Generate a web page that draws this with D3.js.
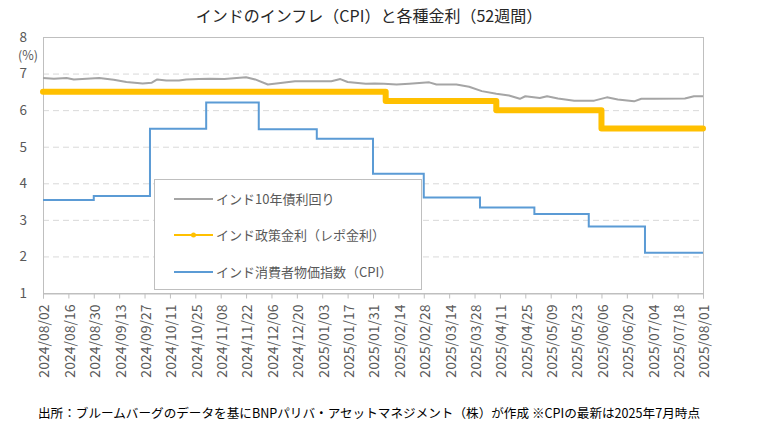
<!DOCTYPE html>
<html>
<head>
<meta charset="utf-8">
<script src="https://cdn.jsdelivr.net/npm/d3@7"></script>
<style>
  body { margin: 0; background: #fff; }
  svg text { font-family: "Noto Sans CJK JP", "Noto Sans", sans-serif; }
</style>
</head>
<body>
<div id="chart"></div>
<script>
// インド10年債利回り
const yieldDates = ["2024-08-02","2024-08-08","2024-08-15","2024-08-19","2024-09-02","2024-09-10","2024-09-17","2024-09-26",
  "2024-10-01","2024-10-04","2024-10-09","2024-10-16","2024-10-20","2024-10-27","2024-11-02","2024-11-10","2024-11-22",
  "2024-11-27","2024-12-04","2024-12-11","2024-12-19","2024-12-30","2025-01-08","2025-01-13","2025-01-17","2025-01-27",
  "2025-02-01","2025-02-06","2025-02-13","2025-02-20","2025-03-03","2025-03-07","2025-03-18","2025-03-25","2025-04-01",
  "2025-04-09","2025-04-16","2025-04-22","2025-04-25","2025-05-03","2025-05-07","2025-05-13","2025-05-22","2025-06-02",
  "2025-06-09","2025-06-15","2025-06-24","2025-06-28","2025-07-05","2025-07-22","2025-07-27","2025-08-01"];
const yieldValues = [6.88,6.86,6.88,6.84,6.88,6.83,6.77,6.73,
  6.75,6.84,6.81,6.81,6.84,6.85,6.86,6.85,6.90,
  6.84,6.70,6.74,6.79,6.79,6.79,6.85,6.77,6.72,
  6.73,6.72,6.70,6.72,6.76,6.70,6.70,6.64,6.52,
  6.45,6.40,6.31,6.38,6.33,6.38,6.32,6.26,6.26,
  6.35,6.29,6.24,6.31,6.31,6.32,6.38,6.38];

// インド政策金利（レポ金利）
const repoDates = ["2024-08-02","2025-02-07","2025-04-09","2025-06-06","2025-08-01"];
const repoValues = [6.50, 6.25, 6.00, 5.50, 5.50];

// インド消費者物価指数（CPI）
const cpiDates = ["2024-08-02","2024-08-30","2024-09-30","2024-10-31","2024-11-29","2024-12-31",
  "2025-01-31","2025-02-28","2025-03-31","2025-04-30","2025-05-30","2025-06-30","2025-08-01"];
const cpiValues = [3.54, 3.65, 5.49, 6.21, 5.48, 5.22, 4.26, 3.61, 3.34, 3.16, 2.82, 2.10, 2.10];

const xTickLabels = ["2024/08/02","2024/08/16","2024/08/30","2024/09/13","2024/09/27","2024/10/11","2024/10/25",
  "2024/11/08","2024/11/22","2024/12/06","2024/12/20","2025/01/03","2025/01/17","2025/01/31","2025/02/14",
  "2025/02/28","2025/03/14","2025/03/28","2025/04/11","2025/04/25","2025/05/09","2025/05/23","2025/06/06",
  "2025/06/20","2025/07/04","2025/07/18","2025/08/01"];
const yTicks = [1, 2, 3, 4, 5, 6, 7, 8];

const seriesNames = ["インド10年債利回り", "インド政策金利（レポ金利）", "インド消費者物価指数（CPI）"];
const seriesColors = ["#a5a5a5", "#ffc000", "#5b9bd5"];

const width = 758, height = 433;
const plot = { left: 43, right: 703, top: 37, bottom: 293 };

const parseDate = d3.utcParse("%Y-%m-%d");
const parseTick = d3.utcParse("%Y/%m/%d");

const svg = d3.select("#chart").append("svg")
    .attr("width", width)
    .attr("height", height);

const x = d3.scaleUtc()
    .domain([parseTick(xTickLabels[0]), parseTick(xTickLabels[xTickLabels.length - 1])])
    .range([plot.left, plot.right]);
const y = d3.scaleLinear()
    .domain([1, 8])
    .range([plot.bottom, plot.top]);

// title
svg.append("text")
    .attr("x", 369)
    .attr("y", 22)
    .attr("text-anchor", "middle")
    .attr("font-size", 16)
    .attr("fill", "#262626")
    .text("インドのインフレ（CPI）と各種金利（52週間）");

// gridlines
svg.append("g")
    .selectAll("line")
    .data(yTicks.filter(t => t > 1 && t < 8))
    .enter()
    .append("line")
    .attr("x1", plot.left)
    .attr("x2", plot.right)
    .attr("y1", d => y(d) + 0.5)
    .attr("y2", d => y(d) + 0.5)
    .attr("stroke", "#d9d9d9")
    .attr("stroke-dasharray", "6,4");

// plot border
svg.append("rect")
    .attr("x", plot.left + 0.5)
    .attr("y", plot.top + 0.5)
    .attr("width", plot.right - plot.left)
    .attr("height", plot.bottom - plot.top)
    .attr("fill", "none")
    .attr("stroke", "#bfbfbf");

// y axis
const yAxis = d3.axisLeft(y).tickValues(yTicks).tickSize(0).tickPadding(16).tickFormat(d3.format("d"));
const yg = svg.append("g")
    .attr("transform", `translate(${plot.left},0)`)
    .call(yAxis);
yg.select(".domain").remove();
yg.selectAll("text")
    .attr("font-size", 13.5)
    .attr("font-family", "'Noto Sans', sans-serif")
    .attr("fill", "#595959");

svg.append("text")
    .attr("x", 28)
    .attr("y", 59.5)
    .attr("text-anchor", "middle")
    .attr("font-size", 12.5)
    .attr("font-family", "'Noto Sans', sans-serif")
    .attr("fill", "#595959")
    .text("(%)");

// x axis
const xAxis = d3.axisBottom(x)
    .tickValues(xTickLabels.map(parseTick))
    .tickFormat(d3.utcFormat("%Y/%m/%d"))
    .tickSize(5);
const xg = svg.append("g")
    .attr("transform", `translate(0,${plot.bottom + 0.5})`)
    .call(xAxis);
xg.select(".domain").attr("stroke", "#bfbfbf");
xg.selectAll(".tick line").attr("stroke", "#bfbfbf");
xg.selectAll("text")
    .attr("font-size", 14)
    .attr("fill", "#595959")
    .attr("text-anchor", "end")
    .attr("transform", "translate(1,11) rotate(-90)")
    .attr("x", 0)
    .attr("y", 0)
    .attr("dy", "0.35em")
    .attr("dx", 0);

// lines
const toPoints = (dates, values) => dates.map((d, i) => ({ date: parseDate(d), value: values[i] }));

const linearLine = d3.line().x(d => x(d.date)).y(d => y(d.value));
const stepLine = d3.line().x(d => x(d.date)).y(d => y(d.value)).curve(d3.curveStepAfter);

svg.append("path")
    .datum(toPoints(yieldDates, yieldValues))
    .attr("d", linearLine)
    .attr("fill", "none")
    .attr("stroke", seriesColors[0])
    .attr("stroke-width", 2)
    .attr("stroke-linejoin", "round");

svg.append("path")
    .datum(toPoints(repoDates, repoValues))
    .attr("d", stepLine)
    .attr("fill", "none")
    .attr("stroke", seriesColors[1])
    .attr("stroke-width", 6)
    .attr("stroke-linecap", "round")
    .attr("stroke-linejoin", "round");

svg.append("path")
    .datum(toPoints(cpiDates, cpiValues))
    .attr("d", stepLine)
    .attr("fill", "none")
    .attr("stroke", seriesColors[2])
    .attr("stroke-width", 2);

// legend
const legend = svg.append("g");
legend.append("rect")
    .attr("x", 154.5)
    .attr("y", 179.5)
    .attr("width", 267)
    .attr("height", 110)
    .attr("fill", "#fff")
    .attr("stroke", "#bfbfbf");

const rows = [199, 235, 272];
seriesNames.forEach((name, i) => {
    legend.append("line")
        .attr("x1", 174)
        .attr("x2", 213)
        .attr("y1", rows[i])
        .attr("y2", rows[i])
        .attr("stroke", seriesColors[i])
        .attr("stroke-width", 2);
    if (i === 1) {
        legend.append("circle")
            .attr("cx", 193.5)
            .attr("cy", rows[i])
            .attr("r", 2.5)
            .attr("fill", seriesColors[i]);
    }
    legend.append("text")
        .attr("x", 216)
        .attr("y", rows[i])
        .attr("dy", "0.35em")
        .attr("font-size", 13)
        .attr("fill", "#595959")
        .text(name);
});

// footnote
svg.append("text")
    .attr("x", 38)
    .attr("y", 418)
    .attr("font-size", 12.5)
    .attr("fill", "#000")
    .attr("textLength", 662)
    .attr("lengthAdjust", "spacingAndGlyphs")
    .text("出所：ブルームバーグのデータを基にBNPパリバ・アセットマネジメント（株）が作成 ※CPIの最新は2025年7月時点");
</script>
</body>
</html>
